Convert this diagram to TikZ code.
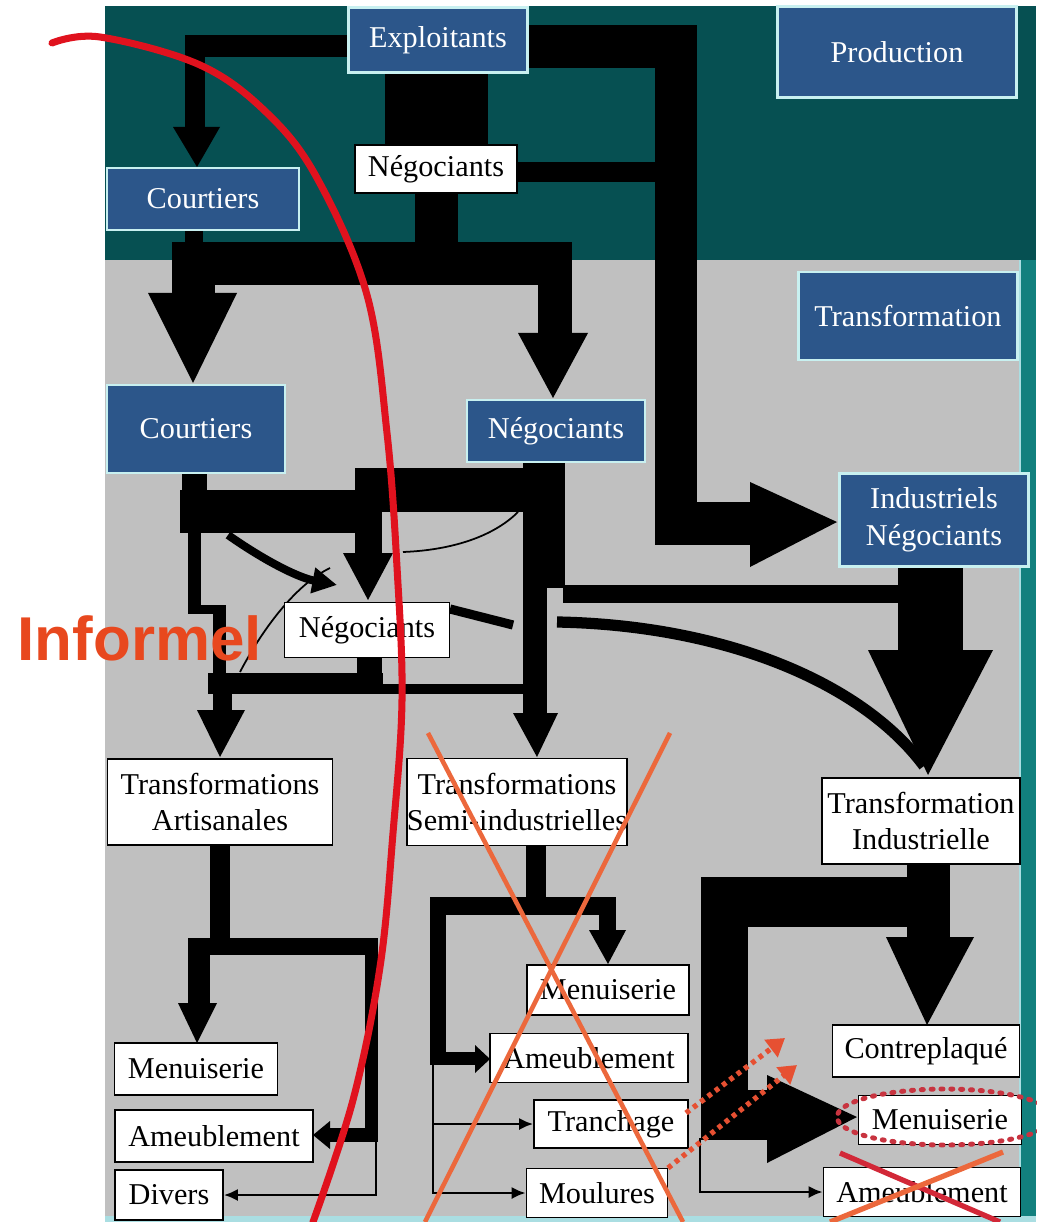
\documentclass[tikz,border=0pt]{standalone}
\usepackage{fontspec}
\setmainfont{Liberation Serif}
\newfontfamily\informfont{Liberation Sans}
\usepackage{tikz}
\usetikzlibrary{arrows.meta,backgrounds}

\definecolor{tealtop}{RGB}{6,80,82}
\definecolor{tealside}{RGB}{18,128,126}
\definecolor{sideline}{RGB}{170,222,226}
\definecolor{panelgray}{RGB}{192,192,192}
\definecolor{boxblue}{RGB}{44,86,138}
\definecolor{boxedge}{RGB}{200,240,240}
\definecolor{markred}{RGB}{224,18,30}
\definecolor{crossorange}{RGB}{236,104,60}
\definecolor{crossred}{RGB}{210,40,56}
\definecolor{informred}{RGB}{232,72,30}
\definecolor{dotred}{RGB}{200,52,64}
\definecolor{dotorange}{RGB}{230,80,50}

\begin{document}
\begin{tikzpicture}[x=0.01cm,y=-0.01cm,
  boxsize/.style 2 args={minimum width=#1*0.01cm,minimum height=#2*0.01cm},
  bluebox/.style={draw=boxedge,line width=0.6pt,fill=boxblue,text=white,inner sep=0pt,align=center,font={\fontsize{8.6}{10.4}\selectfont}},
  whitebox/.style={draw=black,line width=0.45pt,fill=white,text=black,inner sep=0pt,align=center,font={\fontsize{8.6}{10.4}\selectfont}},
  thinlink/.style={line width=0.8pt,-{Latex[length=4pt,width=3.5pt]}},
  dotarrow/.style={dotorange,line width=1.5pt,dash pattern=on 1.3pt off 1.3pt,-{Triangle[length=5pt,width=6pt]}},
  informel/.style={text=informred,inner sep=0pt,font={\informfont\bfseries\fontsize{17.6}{20}\selectfont}}]
\useasboundingbox (0,0) rectangle (1036,1222);

% production
\node[bluebox,boxsize={179}{65}] (explo) at (438,40) {Exploitants};
\node[bluebox,boxsize={239}{91}] (prod) at (897,52) {Production};
\node[bluebox,boxsize={192}{62}] (courtA) at (203,199) {Courtiers};
\node[whitebox,boxsize={162}{48}] (negA) at (436,169) {Négociants};

% transformation
\node[bluebox,boxsize={219}{88}] (transf) at (908,316) {Transformation};
\node[bluebox,boxsize={178}{88}] (courtB) at (196,429) {Courtiers};
\node[bluebox,boxsize={178}{62}] (negB) at (556,431) {Négociants};
\node[bluebox,boxsize={189}{93}] (indus) at (934,520) {Industriels\\Négociants};
\node[whitebox,boxsize={165}{55}] (negC) at (367,630) {Négociants};
\node[whitebox,boxsize={225}{86}] (artis) at (220,802) {Transformations\\Artisanales};
\node[whitebox,boxsize={210}{87}] (semi) at (517,802) {Transformations\\Semi-industrielles};
\node[whitebox,boxsize={198}{86}] (indT) at (921,821) {Transformation\\Industrielle};

\node[whitebox,boxsize={163}{52}] (menA) at (196,1069) {Menuiserie};
\node[whitebox,boxsize={198}{52}] (ameubA) at (214,1136) {Ameublement};
\node[whitebox,boxsize={108}{50}] (divers) at (169,1195) {Divers};
\node[whitebox,boxsize={162}{50}] (menB) at (608,990) {Menuiserie};
\node[whitebox,boxsize={198}{49}] (ameubB) at (589,1058) {Ameublement};
\node[whitebox,boxsize={154}{48}] (tranch) at (611,1124) {Tranchage};
\node[whitebox,boxsize={141}{49}] (moul) at (597,1193) {Moulures};
\node[whitebox,boxsize={187}{52}] (contre) at (926,1051) {Contreplaqué};
\node[whitebox,boxsize={163}{49}] (menC) at (940,1120) {Menuiserie};
\node[whitebox,boxsize={197}{49}] (ameubC) at (922,1192) {Ameublement};

\begin{scope}[on background layer]
\fill[white] (0,0) rectangle (1036,1222);
\fill[tealtop] (105,6) rectangle (1036,260);
\fill[tealside] (1020,260) rectangle (1036,1222);
\fill[panelgray] (105,260) rectangle (1020,1216);
\fill[sideline] (105,1216) rectangle (1036,1222);
\draw[sideline,line width=0.5pt] (1020,260) -- (1020,1216);

% flows from Exploitants
\fill (185,35) rectangle (360,57);
\fill (185,35) rectangle (205,129);
\fill (173,127) -- (220,127) -- (197,167) -- cycle;
\fill (385,60) rectangle (488,150);
\fill (510,25) rectangle (697,68);
\fill (655,25) rectangle (697,545);
\fill (655,502) rectangle (752,545);
\fill (750,482) -- (750,567) -- (837,522) -- cycle;
\fill (510,162) rectangle (657,182);
\fill (415,190) rectangle (458,285);
\fill (172,242) rectangle (572,285);
\fill (185,228) rectangle (203,244);
\fill (172,283) rectangle (215,295);
\fill (148,293) -- (237,293) -- (193,383) -- cycle;
\fill (538,283) rectangle (572,335);
\fill (518,333) -- (588,333) -- (553,398) -- cycle;

% flows from Courtiers / Negociants
\fill (523,460) rectangle (565,588);
\fill (355,468) rectangle (565,512);
\fill (182,470) rectangle (207,492);
\fill (180,490) rectangle (382,533);
\fill (355,510) rectangle (382,555);
\fill (343,553) -- (393,553) -- (368,600) -- cycle;
\fill (563,585) rectangle (900,603);
\fill (898,565) rectangle (963,652);
\fill (868,650) -- (993,650) -- (928,775) -- cycle;
\fill (523,585) rectangle (547,715);
\fill (513,713) -- (558,713) -- (537,757) -- cycle;
\fill (188,530) rectangle (201,613);
\fill (188,605) rectangle (226,614);
\fill (213,605) rectangle (226,680);
\fill (208,673) rectangle (383,694);
\fill (357,655) rectangle (382,694);
\fill (380,684) rectangle (525,694);
\fill (213,692) rectangle (232,712);
\fill (197,710) -- (245,710) -- (220,757) -- cycle;
\draw[line width=2.3pt,-{Triangle[length=7pt,width=7pt]}] (228,535) .. controls (268,563) and (300,578) .. (337,585);
\draw[line width=2.6pt] (450,609) -- (513,625);
\draw[line width=3.2pt] (557,622) .. controls (720,625) and (860,680) .. (924,766);
\draw[line width=0.5pt] (403,552) .. controls (455,550) and (495,535) .. (518,512);
\draw[line width=0.5pt] (240,672) .. controls (262,630) and (295,585) .. (330,568);

% artisanales
\fill (210,843) rectangle (230,955);
\fill (188,938) rectangle (378,955);
\fill (188,938) rectangle (210,1005);
\fill (178,1003) -- (217,1003) -- (197,1043) -- cycle;
\fill (365,938) rectangle (378,1142);
\fill (328,1128) rectangle (378,1142);
\fill (330,1121) -- (330,1149) -- (313,1135) -- cycle;

% semi-industrielles
\fill (526,845) rectangle (546,915);
\fill (430,897) rectangle (616,915);
\fill (599,897) rectangle (616,932);
\fill (589,930) -- (626,930) -- (608,964) -- cycle;
\fill (430,897) rectangle (446,1065);
\fill (430,1052) rectangle (477,1065);
\fill (475,1045) -- (475,1073) -- (490,1059) -- cycle;

% industrielle
\fill (907,862) rectangle (950,940);
\fill (886,937) -- (974,937) -- (927,1025) -- cycle;
\fill (701,877) rectangle (910,927);
\fill (701,877) rectangle (748,1140);
\fill (745,1090) rectangle (769,1140);
\fill (767,1075) -- (767,1163) -- (857,1117) -- cycle;
\end{scope}

\coordinate (artR) at (376,1140);
\coordinate (semiL) at (433,1062);
\coordinate (semiT) at (433,1124);
\coordinate (indL) at (700,1138);
\draw[thinlink] (artR) |- (divers.east);
\draw[line width=0.8pt] (semiL) -- (433,1193);
\draw[thinlink] (semiL) |- (moul.west);
\draw[thinlink] (semiT) -- (tranch.west);
\draw[thinlink] (indL) |- (ameubC.west);

% marks
\node[informel,anchor=base west] (inf) at (17,660) {Informel};
\draw[markred,line width=2pt,line cap=round] plot[smooth,tension=0.6] coordinates {(52,43) (100,37) (200,65) (267,113) (317,178) (367,295) (387,433) (397,567) (402,700) (393,833) (380,967) (353,1100) (313,1222)};
\draw[crossorange,line width=1.3pt] (428,733) -- (683,1222);
\draw[crossorange,line width=1.3pt] (670,733) -- (425,1222);
\draw[dotarrow] (686,1113) -- (785,1038);
\draw[dotarrow] (668,1168) -- (797,1065);
\draw[dotred,line width=1.4pt,dash pattern=on 0.6pt off 2.2pt,line cap=round] (945,1117) ellipse [x radius=108,y radius=28];
\draw[crossred,line width=1.5pt] (840,1153) -- (1000,1222);
\draw[crossorange,line width=1.5pt] (1003,1152) -- (830,1222);
\end{tikzpicture}
\end{document}
